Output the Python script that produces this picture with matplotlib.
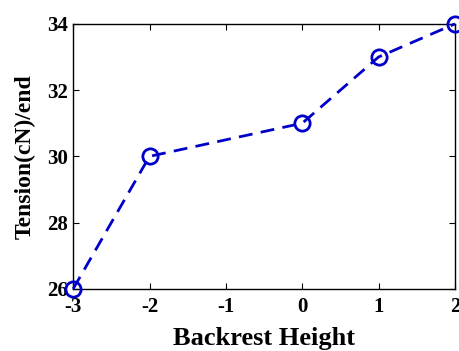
import matplotlib
matplotlib.use("Agg")
from matplotlib import pyplot as plt

backrest_height = [-3, -2, 0, 1, 2]
tension = [26, 30, 31, 33, 34]

plt.rcParams["font.family"] = "Liberation Serif"
plt.rcParams["font.weight"] = "bold"
plt.rcParams["axes.unicode_minus"] = False

fig = plt.figure(figsize=(4.60, 3.51), dpi=100)
ax = fig.add_axes([0.159, 0.177, 0.830, 0.755])

ax.plot(backrest_height, tension, color="#0000c8", linestyle=(0, (5, 3)),
        linewidth=2, marker="o", markersize=11, markerfacecolor="none",
        markeredgewidth=2, clip_on=False, zorder=3)

ax.set_xlim(-3, 2)
ax.set_ylim(26, 34)
ax.set_xticks([-3, -2, -1, 0, 1, 2])
ax.set_yticks([26, 28, 30, 32, 34])
ax.tick_params(direction="in", top=True, right=True, length=4, labelsize=15)
ax.tick_params(axis="x", pad=6)
ax.tick_params(axis="y", pad=4)
for lab in ax.get_xticklabels() + ax.get_yticklabels():
    lab.set_fontweight("bold")
for s in ax.spines.values():
    s.set_linewidth(1)

ax.set_xlabel("Backrest Height", fontsize=19, fontweight="bold", labelpad=7)
ax.set_ylabel("Tension(cN)/end", fontsize=17, fontweight="bold", labelpad=8)

plt.savefig("out.png", dpi=100)
